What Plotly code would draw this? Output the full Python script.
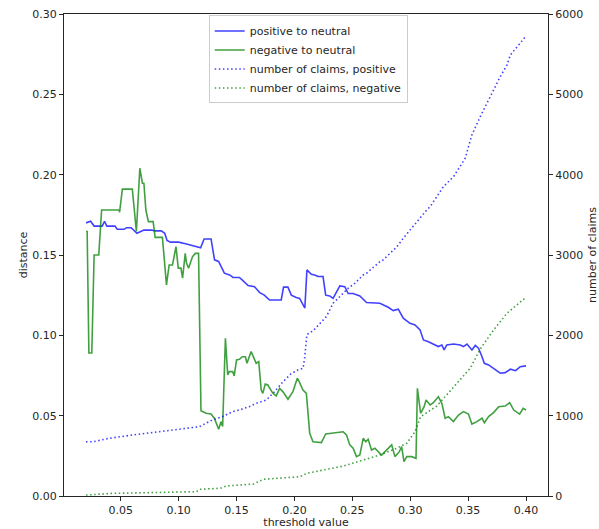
import plotly.graph_objects as go

# positive to neutral (distance)
pos_x = [0.020, 0.024, 0.027, 0.034, 0.036, 0.038, 0.045, 0.047, 0.053, 0.055, 0.059, 0.061, 0.064,
         0.070, 0.077, 0.079, 0.085, 0.088, 0.090, 0.093, 0.100, 0.106, 0.110, 0.115, 0.119, 0.122,
         0.128, 0.131, 0.1345, 0.1395, 0.144, 0.147, 0.1525, 0.1555, 0.160, 0.1655, 0.170, 0.174,
         0.1785, 0.1886, 0.1906, 0.1944, 0.1973, 0.2016, 0.2045, 0.209, 0.2108, 0.2146, 0.2175,
         0.2204, 0.2247, 0.227, 0.2305, 0.2334, 0.2363, 0.2392, 0.2435, 0.2464, 0.2507, 0.2565,
         0.2623, 0.2738, 0.281, 0.2853, 0.2897, 0.294, 0.2998, 0.3042, 0.3085, 0.3114, 0.3157,
         0.320, 0.3243, 0.3273, 0.3293, 0.3316, 0.3374, 0.3432, 0.346, 0.349, 0.3533, 0.3562,
         0.359, 0.362, 0.364, 0.3677, 0.372, 0.3778, 0.382, 0.3865, 0.391, 0.395, 0.400]
pos_dist = [0.170, 0.171, 0.168, 0.168, 0.171, 0.168, 0.168, 0.166, 0.166, 0.167, 0.167, 0.1655, 0.1635,
            0.1655, 0.1655, 0.165, 0.165, 0.1635, 0.159, 0.158, 0.158, 0.157, 0.1563, 0.155, 0.1545, 0.160,
            0.160, 0.147, 0.146, 0.1387, 0.1376, 0.136, 0.136, 0.134, 0.131, 0.1303, 0.1266, 0.125,
            0.122, 0.122, 0.130, 0.130, 0.125, 0.1235, 0.123, 0.117, 0.1407, 0.138, 0.1376,
            0.1366, 0.1366, 0.125, 0.1245, 0.123, 0.127, 0.1308, 0.1303, 0.126, 0.126, 0.1245,
            0.1204, 0.120, 0.1175, 0.1154, 0.1163, 0.1107, 0.1075, 0.1065, 0.1034, 0.0971, 0.096,
            0.0946, 0.093, 0.094, 0.0909, 0.094, 0.0946, 0.094, 0.093, 0.0946, 0.0909, 0.0937,
            0.092, 0.0867, 0.0826, 0.0816, 0.0795, 0.0764, 0.0768, 0.0789, 0.078, 0.0805, 0.081]

# negative to neutral (distance)
neg_x = [0.020, 0.021, 0.0225, 0.025, 0.027, 0.031, 0.0335, 0.0485, 0.049, 0.0514, 0.060, 0.0635, 0.0665,
         0.0687, 0.070, 0.0717, 0.0739, 0.078, 0.0797, 0.086, 0.0895, 0.0918, 0.0947, 0.0977, 0.0997,
         0.102, 0.1034, 0.1057, 0.1068, 0.1086, 0.112, 0.1144, 0.1172, 0.1193, 0.1237, 0.128, 0.1308,
         0.1346, 0.1366, 0.138, 0.1404, 0.1424, 0.1438, 0.1467, 0.148, 0.150, 0.1525, 0.155, 0.1577,
         0.159, 0.1626, 0.1655, 0.167, 0.1692, 0.1713, 0.1727, 0.1748, 0.177, 0.179, 0.1814, 0.1843,
         0.1872, 0.190, 0.1944, 0.1987, 0.2025, 0.2045, 0.2074, 0.2103, 0.2132, 0.216, 0.2233, 0.227,
         0.2334, 0.242, 0.245, 0.2478, 0.2507, 0.2536, 0.2565, 0.2594, 0.2617, 0.2637, 0.2666, 0.2695,
         0.2753, 0.2796, 0.284, 0.2868, 0.2906, 0.2926, 0.2946, 0.297, 0.3013, 0.305, 0.3062, 0.309,
         0.312, 0.3137, 0.3172, 0.320, 0.3243, 0.3273, 0.3302, 0.333, 0.3373, 0.3417, 0.346, 0.3503,
         0.3533, 0.3576, 0.362, 0.364, 0.3677, 0.372, 0.3764, 0.382, 0.3859, 0.3894, 0.3945, 0.3975, 0.400]
neg_dist = [0.1646, 0.1646, 0.089, 0.089, 0.150, 0.150, 0.178, 0.178, 0.1766, 0.191, 0.191, 0.1646, 0.204,
            0.1947, 0.1947, 0.178, 0.1708, 0.1708, 0.161, 0.161, 0.1314, 0.1438, 0.1438, 0.1552, 0.1418,
            0.1418, 0.1356, 0.151, 0.145, 0.1418, 0.149, 0.151, 0.151, 0.0531, 0.0515, 0.051, 0.0484,
            0.0415, 0.0463, 0.0432, 0.0982, 0.0753, 0.0774, 0.0774, 0.0747, 0.0847, 0.0851, 0.0867, 0.0867,
            0.0826, 0.0899, 0.0847, 0.0826, 0.0836, 0.066, 0.0639, 0.0697, 0.0691, 0.067, 0.0639, 0.0623,
            0.067, 0.065, 0.0602, 0.065, 0.0733, 0.0706, 0.066, 0.0639, 0.039, 0.0338, 0.0332, 0.0386,
            0.0394, 0.040, 0.038, 0.0318, 0.0297, 0.0245, 0.0255, 0.0359, 0.0338, 0.0353, 0.0286, 0.0297,
            0.0255, 0.0286, 0.0318, 0.0245, 0.0276, 0.0307, 0.0214, 0.0245, 0.0245, 0.0235, 0.067, 0.0515,
            0.0556, 0.0598, 0.0567, 0.0581, 0.0618, 0.0577, 0.0484, 0.0494, 0.0463, 0.0504, 0.0525, 0.051,
            0.0448, 0.0463, 0.0484, 0.0456, 0.0494, 0.0519, 0.0556, 0.056, 0.0581, 0.0535, 0.051, 0.0546, 0.0535]

# number of claims, positive
cpos_x = [0.020, 0.026, 0.031, 0.040, 0.060, 0.089, 0.109, 0.118, 0.129, 0.138, 0.1467, 0.1525, 0.161,
          0.167, 0.1757, 0.182, 0.190, 0.197, 0.203, 0.2074, 0.2088, 0.2108, 0.216, 0.2218, 0.2276,
          0.2334, 0.242, 0.2478, 0.2507, 0.2594, 0.2623, 0.2738, 0.2767, 0.2883, 0.294, 0.2998, 0.3056,
          0.3143, 0.3172, 0.3287, 0.3374, 0.3475, 0.3503, 0.3533, 0.3605, 0.3691, 0.3778, 0.3836,
          0.3865, 0.3937, 0.400]
cpos_n = [676, 676, 690, 718, 759, 813, 850, 863, 946, 990, 1050, 1071, 1112,
          1154, 1195, 1285, 1420, 1520, 1569, 1589, 1714, 2010, 2055, 2150, 2233,
          2399, 2524, 2606, 2627, 2751, 2773, 2917, 2939, 3100, 3208, 3312, 3415,
          3561, 3602, 3851, 3975, 4204, 4349, 4495, 4723, 4971, 5221, 5366,
          5490, 5615, 5727]

# number of claims, negative
cneg_x = [0.020, 0.043, 0.072, 0.101, 0.1155, 0.118, 0.136, 0.1415, 0.1646, 0.1733, 0.2022, 0.2045,
          0.2108, 0.2253, 0.2334, 0.2426, 0.2594, 0.2738, 0.2883, 0.297, 0.3042, 0.309, 0.323, 0.3302,
          0.3403, 0.3518, 0.3605, 0.372, 0.3836, 0.400]
cneg_n = [12, 33, 41, 54, 54, 83, 96, 125, 149, 208, 233, 240,
          283, 324, 355, 374, 448, 510, 594, 656, 801, 987, 1120, 1236,
          1403, 1590, 1830, 2067, 2275, 2474]

x_ticks = [0.05, 0.10, 0.15, 0.20, 0.25, 0.30, 0.35, 0.40]
y_ticks = [0.00, 0.05, 0.10, 0.15, 0.20, 0.25, 0.30]
y2_ticks = [0, 1000, 2000, 3000, 4000, 5000, 6000]

BLUE = "rgba(0,0,255,0.75)"
GREEN = "rgba(0,128,0,0.75)"
FONT = "DejaVu Sans"
DARK = "#262626"
DOTS = "1.5px,2.6px"

fig = go.Figure()
fig.add_trace(go.Scatter(x=pos_x, y=pos_dist, mode="lines", name="positive to neutral",
                         line=dict(color=BLUE, width=1.6)))
fig.add_trace(go.Scatter(x=neg_x, y=neg_dist, mode="lines", name="negative to neutral",
                         line=dict(color=GREEN, width=1.6)))
fig.add_trace(go.Scatter(x=cpos_x, y=cpos_n, mode="lines", name="number of claims, positive",
                         yaxis="y2", line=dict(color=BLUE, width=1.6, dash=DOTS)))
fig.add_trace(go.Scatter(x=cneg_x, y=cneg_n, mode="lines", name="number of claims, negative",
                         yaxis="y2", line=dict(color=GREEN, width=1.6, dash=DOTS)))

axis_common = dict(showgrid=False, zeroline=False, showline=True, linecolor=DARK, linewidth=1.2,
                   ticks="outside", ticklen=4, tickwidth=1, tickcolor=DARK, automargin=False,
                   tickfont=dict(family=FONT, size=11, color=DARK))

fig.update_layout(
    width=599, height=529,
    margin=dict(l=64, r=51, t=14, b=33),
    paper_bgcolor="white", plot_bgcolor="white",
    font=dict(family=FONT, size=11, color=DARK),
    showlegend=True,
    legend=dict(x=0.299, y=0.997, xanchor="left", yanchor="top",
                bgcolor="rgba(255,255,255,0.8)", bordercolor="#cccccc", borderwidth=1,
                font=dict(family=FONT, size=11, color=DARK), tracegroupgap=0),
    xaxis=dict(range=[0.001, 0.419], tickvals=x_ticks, ticktext=[f"{v:.2f}" for v in x_ticks],
               mirror=True,
               title=dict(text="threshold value", font=dict(family=FONT, size=11, color=DARK), standoff=2),
               **axis_common),
    yaxis=dict(range=[0, 0.30], tickvals=y_ticks, ticktext=[f"{v:.2f}" for v in y_ticks],
               title=dict(text="distance", font=dict(family=FONT, size=11, color=DARK), standoff=2),
               **axis_common),
    yaxis2=dict(range=[0, 6000], tickvals=y2_ticks, ticktext=[str(v) for v in y2_ticks],
                overlaying="y", side="right", anchor="x",
                title=dict(text="number of claims", font=dict(family=FONT, size=11, color=DARK), standoff=6),
                **axis_common),
)

fig.write_html("out.html")
